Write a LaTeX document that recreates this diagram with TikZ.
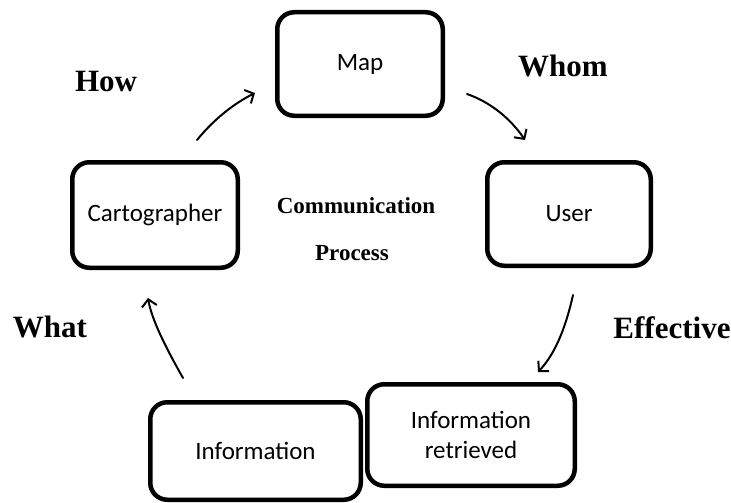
\documentclass[tikz,border=0pt]{standalone}
\usepackage{fontspec}
\setmainfont{Liberation Serif}
\newfontfamily\boxfont{Carlito}
\usetikzlibrary{arrows.meta}

\tikzset{
  stage/.style={draw=black, fill=white, line width=4.5pt, rounded corners=17pt,
    inner sep=0pt, align=center,
    font=\boxfont\fontsize{25}{30}\selectfont},
  cue/.style={anchor=base, font=\bfseries\fontsize{31}{36}\selectfont},
  title/.style={anchor=base, font=\bfseries\fontsize{23}{28}\selectfont},
  flow/.style={line width=2pt, line cap=round,
    -{Straight Barb[length=7pt,width=15pt,line width=2pt]}}
}

\begin{document}
\begin{tikzpicture}[x=1pt,y=-1pt]
  \useasboundingbox (0,0) rectangle (731,503);

  % the five stages of the process
  \node[stage, minimum width=165.5pt, minimum height=103.5pt] (map)  at (360,64)    {Map};
  \node[stage, minimum width=165.5pt, minimum height=105.5pt] (cart) at (155,215)   {Cartographer};
  \node[stage, minimum width=163.5pt, minimum height=103.5pt] (user) at (569,214)   {User};
  \node[stage, minimum width=210.5pt, minimum height=97.5pt]  (info) at (255.5,451) {Information};
  \node[stage, minimum width=207.5pt, minimum height=101.5pt] (retr) at (471,435)   {Information\\retrieved};

  % centre title
  \node[title] (t1) at (356,213) {Communication};
  \node[title] (t2) at (352,260) {Process};

  % question labels
  \node[cue] (how)  at (106,92)  {How};
  \node[cue] (whom) at (563,77)  {Whom};
  \node[cue] (what) at (50,337)  {What};
  \node[cue] (eff)  at (672,338) {Effective};

  % free ends of the hand-drawn arrows
  \coordinate (howA)  at (197,140);  \coordinate (howB)  at (255,93);
  \coordinate (whomA) at (467,94);   \coordinate (whomB) at (525,140);
  \coordinate (effA)  at (573,295);  \coordinate (effB)  at (538,372);
  \coordinate (whatA) at (183,378);  \coordinate (whatB) at (148,298);

  \draw[flow] (howA)  .. controls (215,118) and (235,103) .. (howB);
  \draw[flow] (whomA) .. controls (490,102) and (510,118) .. (whomB);
  \draw[flow] (effA)  .. controls (567,322) and (557,352) .. (effB);
  \draw[flow] (whatA) .. controls (170,355) and (152,322) .. (whatB);
\end{tikzpicture}
\end{document}
